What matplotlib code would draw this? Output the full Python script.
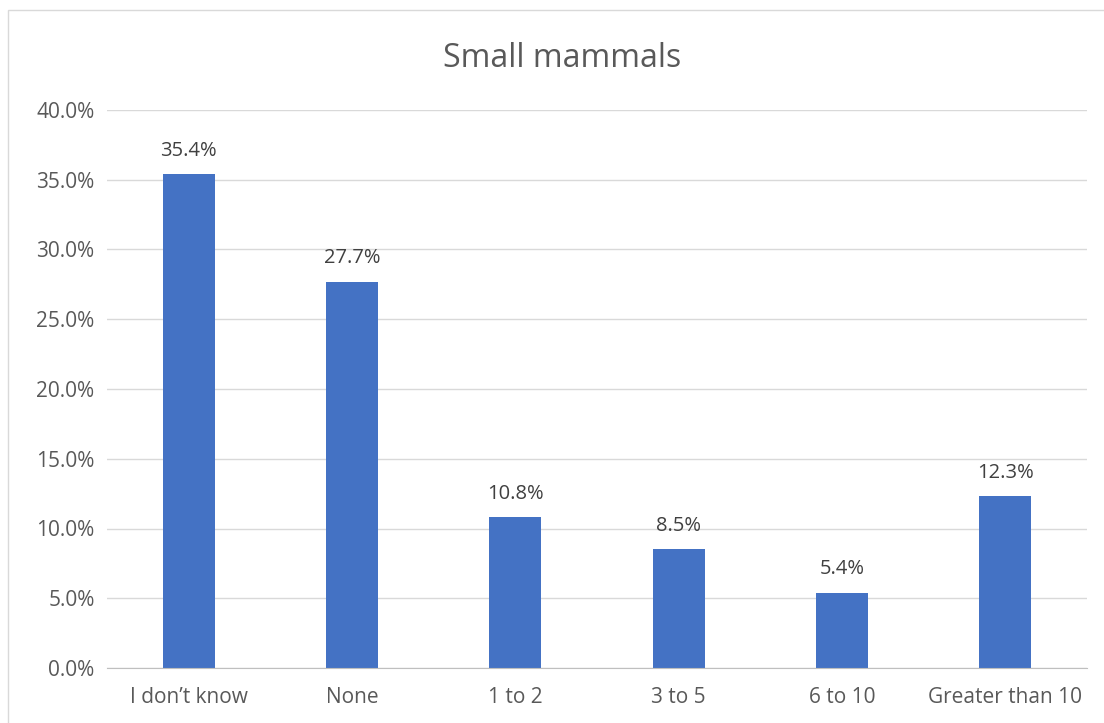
import numpy as np
import matplotlib.pyplot as plt
from matplotlib.patches import Rectangle
from matplotlib.ticker import FuncFormatter

categories = ["I don\u2019t know", "None", "1 to 2", "3 to 5", "6 to 10", "Greater than 10"]
shares = [35.4, 27.7, 10.8, 8.5, 5.4, 12.3]

plt.rcParams['font.family'] = ['Open Sans', 'DejaVu Sans']
text_color = "#595959"

fig = plt.figure(figsize=(11.04, 7.23), dpi=100)
ax = fig.add_axes([107 / 1104, 55 / 723, 980 / 1104, 558 / 723])

x = np.arange(len(categories))
ax.bar(x, shares, width=0.32, color="#4472C4", zorder=3)
for xi, v in zip(x, shares):
    ax.text(xi, v + 0.95, f"{v:.1f}%", ha="center", va="bottom", fontsize=14.5, color="#404040")

ax.set_xlim(-0.5, len(categories) - 0.5)
ax.set_ylim(0, 40)
ax.set_yticks(np.arange(0, 41, 5))
ax.yaxis.set_major_formatter(FuncFormatter(lambda v, p: f"{v:.1f}%"))
ax.set_xticks(x)
ax.set_xticklabels(categories)
ax.tick_params(axis="both", length=0, labelsize=15, labelcolor=text_color)
ax.tick_params(axis="x", pad=14)
ax.tick_params(axis="y", pad=9)
ax.grid(axis="y", color="#D9D9D9", linewidth=1, zorder=0)
for s in ["top", "right", "left"]:
    ax.spines[s].set_visible(False)
ax.spines["bottom"].set_color("#BFBFBF")
ax.spines["bottom"].set_zorder(4)

fig.text(0.509, 0.919, "Small mammals", ha="center", va="center", fontsize=23, color=text_color)

# chart border
fig.patches.append(Rectangle((8 / 1104, -0.01), 1.02, 1 - 10 / 723 + 0.01, transform=fig.transFigure,
                             fill=False, edgecolor="#D9D9D9", linewidth=1))

plt.savefig("out.png", dpi=100)
